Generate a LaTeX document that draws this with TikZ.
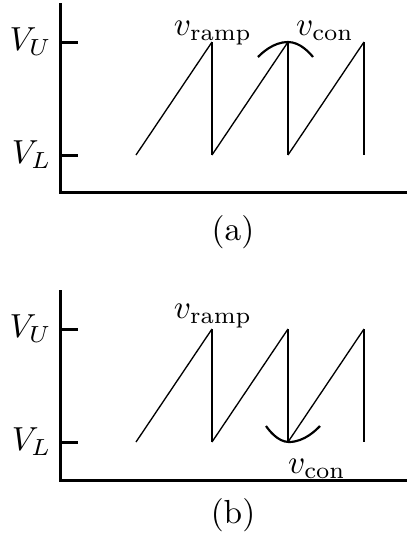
\documentclass[tikz,border=0pt]{standalone}
\usepackage{tikz}
\usetikzlibrary{positioning}
\tikzstyle{axis} = [line width=0.9pt]
\tikzstyle{ramp} = [line width=0.4pt]
\tikzstyle{drop} = [line width=0.65pt]
\tikzstyle{con} = [line width=0.65pt]
\tikzstyle{level} = [anchor=east, inner sep=0pt]
\tikzstyle{wave} = [anchor=base, inner sep=0pt]

\begin{document}
\begin{tikzpicture}[x=0.3pt, y=-0.3pt]
\useasboundingbox (0,0) rectangle (407,539);

% --- Panel (a): control voltage touches V_U ---
\begin{scope}
\coordinate (a_top) at (61,3);
\coordinate (a_orig) at (61,192);
\coordinate (a_end) at (407,192);
\draw [axis] (a_top) -- (a_orig) -- (a_end);
\coordinate (a_u) at (61,42);
\coordinate (a_l) at (61,155);
\draw [axis] (a_u) -- ++(17,0);
\draw [axis] (a_l) -- ++(17,0);
\node (a_vu) [level] at (52,42) {$V_U$};
\node (a_vl) [level] at (52,155) {$V_L$};
% sawtooth
\foreach \s in {136,212,288} {
  \draw [ramp] (\s,155) -- (\s+76,42);
  \draw [drop] (\s+76,42) -- (\s+76,155);
}
\draw [con] (258,57) parabola bend (288,42) (313,57);
\node (a_ramp) [wave] at (213,35) {$v_{\rm ramp}$};
\node (a_con) [wave] at (325,35) {$v_{\rm con}$};
\node (a_cap) [wave] at (233,240) {(a)};
\end{scope}

% --- Panel (b): control voltage touches V_L ---
\begin{scope}[yshift=-287*0.3pt]
\coordinate (b_top) at (61,3);
\coordinate (b_orig) at (61,193);
\coordinate (b_end) at (407,193);
\draw [axis] (b_top) -- (b_orig) -- (b_end);
\coordinate (b_u) at (61,42);
\coordinate (b_l) at (61,155);
\draw [axis] (b_u) -- ++(17,0);
\draw [axis] (b_l) -- ++(17,0);
\node (b_vu) [level] at (52,42) {$V_U$};
\node (b_vl) [level] at (52,155) {$V_L$};
% sawtooth
\foreach \s in {136,212,288} {
  \draw [ramp] (\s,155) -- (\s+76,42);
  \draw [drop] (\s+76,42) -- (\s+76,155);
}
\draw [con] (266,139) parabola bend (289,155) (320,139);
\node (b_ramp) [wave] at (213,31) {$v_{\rm ramp}$};
\node (b_con) [wave] at (317,186) {$v_{\rm con}$};
\node (b_cap) [wave] at (233,236) {(b)};
\end{scope}

\end{tikzpicture}
\end{document}
